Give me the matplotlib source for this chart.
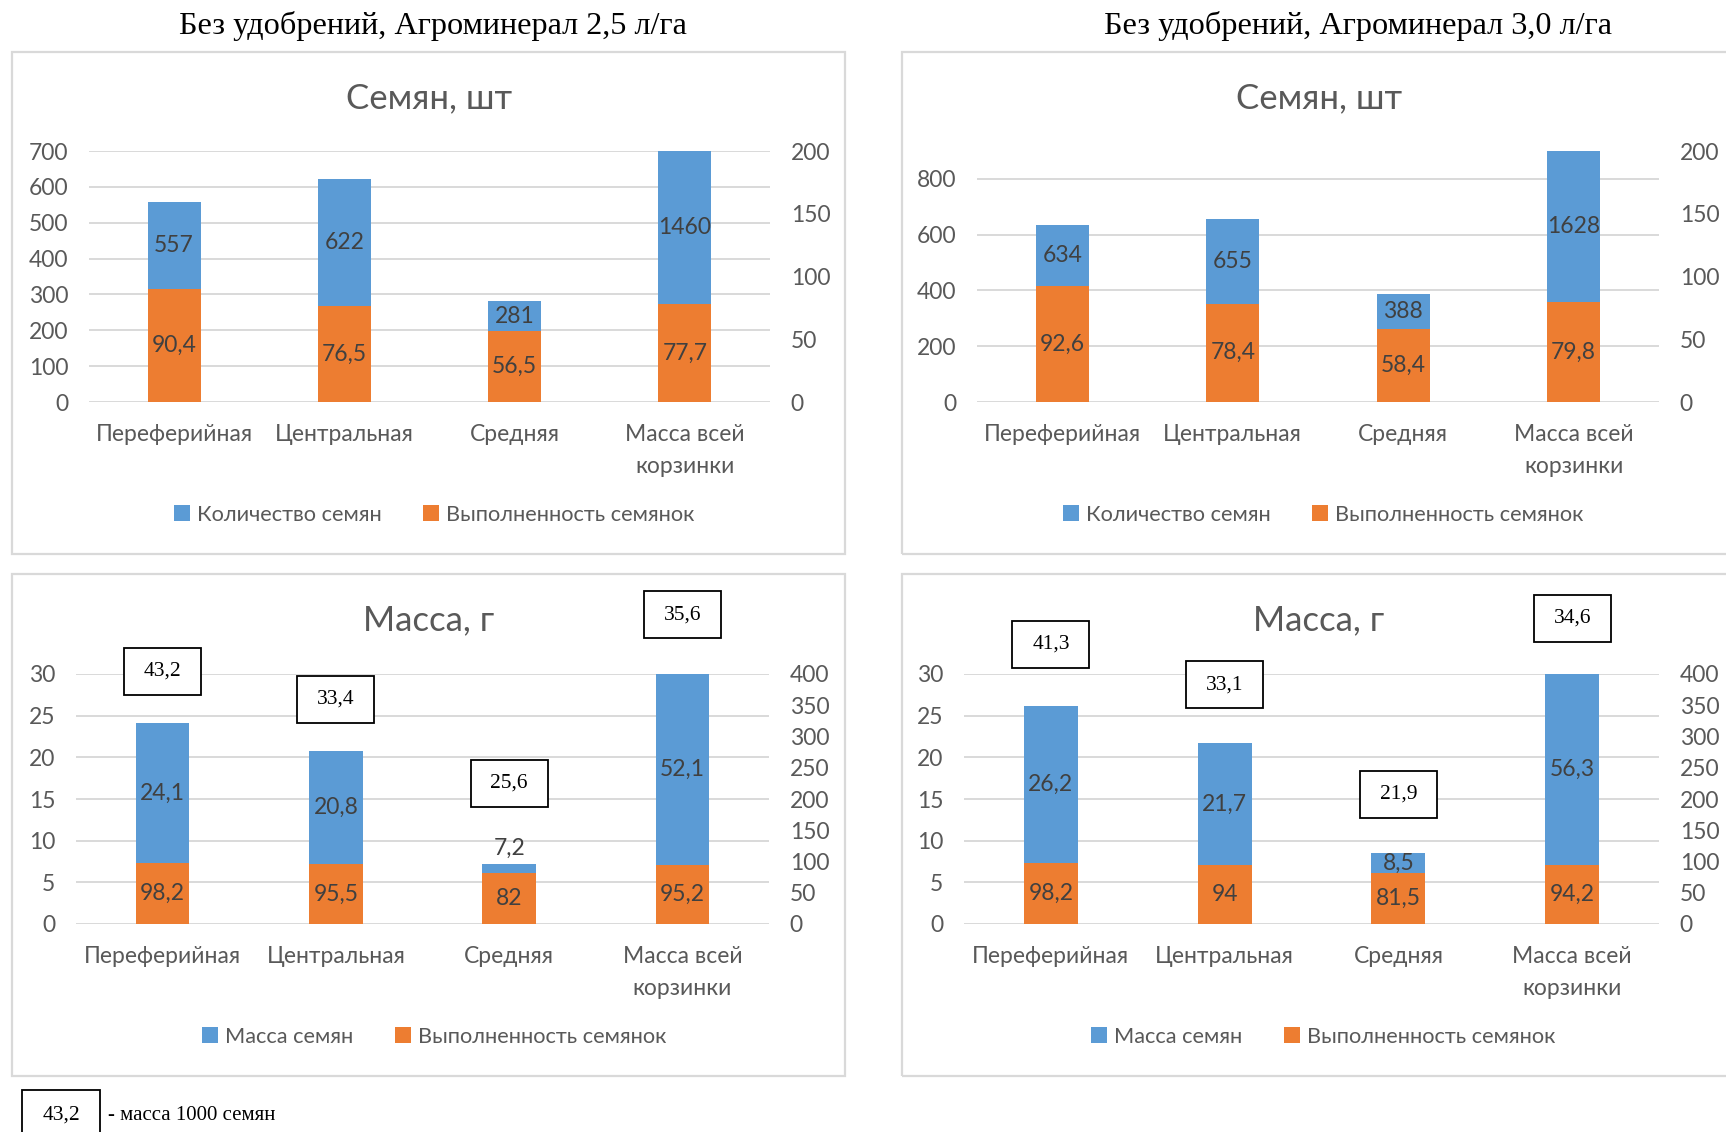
import matplotlib
matplotlib.use("Agg")
import matplotlib.pyplot as plt
from matplotlib.patches import Rectangle, Patch

plt.rcParams['font.family'] = ['Lato', 'DejaVu Sans']

# ---- data ----
categories = ["Переферийная", "Центральная", "Средняя", "Масса всей\nкорзинки"]

seed_count_25 = [557, 622, 281, 1460]
seed_fill_25 = [90.4, 76.5, 56.5, 77.7]
seed_count_30 = [634, 655, 388, 1628]
seed_fill_30 = [92.6, 78.4, 58.4, 79.8]

seed_mass_25 = [24.1, 20.8, 7.2, 52.1]
mass_fill_25 = [98.2, 95.5, 82, 95.2]
seed_mass_30 = [26.2, 21.7, 8.5, 56.3]
mass_fill_30 = [98.2, 94, 81.5, 94.2]

thousand_mass_25 = [43.2, 33.4, 25.6, 35.6]
thousand_mass_30 = [41.3, 33.1, 21.9, 34.6]

# vertical placement of the 1000-seed-mass boxes (primary-axis units)
box_y_25 = [30.3, 27.0, 16.9, 37.1]
box_y_30 = [33.6, 28.7, 15.6, 36.7]

BLUE = "#5B9BD5"
ORANGE = "#ED7D31"
GRID = "#D9D9D9"
TICK = "#595959"
LABEL = "#404040"

W, H = 1726, 1132
fig = plt.figure(figsize=(W / 100, H / 100), dpi=100)


def fmt(v):
    s = f"{v:g}"
    return s.replace(".", ",")


def add_axes_px(left, top, right, bottom):
    return fig.add_axes([left / W, 1 - bottom / H, (right - left) / W, (bottom - top) / H])


def panel_box(left, top, right, bottom):
    fig.add_artist(Rectangle((left / W, 1 - bottom / H), (right - left) / W, (bottom - top) / H,
                             transform=fig.transFigure, fill=False, edgecolor=GRID, lw=1.6))


def draw_chart(ax, blue, orange, ymax, yticks, ymax2, yticks2):
    x = list(range(len(categories)))
    ax.set_xlim(-0.5, len(categories) - 0.5)
    ax.set_ylim(0, ymax)
    ax.set_yticks(yticks)
    ax.yaxis.grid(True, color=GRID, lw=1.4)
    ax.set_axisbelow(True)
    ax.bar(x, blue, width=0.31, color=BLUE, zorder=2)
    ax.set_xticks(x)
    ax.set_xticklabels(categories, linespacing=1.65)
    for s in ax.spines.values():
        s.set_visible(False)
    ax.tick_params(axis='y', length=0, pad=15, labelsize=16.5, labelcolor=TICK)
    ax.tick_params(axis='x', length=0, pad=16, labelsize=16.5, labelcolor=TICK)

    ax2 = ax.twinx()
    ax2.set_ylim(0, ymax2)
    ax2.set_yticks(yticks2)
    ax2.bar(x, orange, width=0.31, color=ORANGE, zorder=2)
    for s in ax2.spines.values():
        s.set_visible(False)
    ax2.tick_params(axis='y', length=0, pad=15, labelsize=16.5, labelcolor=TICK)

    # value labels
    ax_h_px = ax.get_position().height * H
    unit_px = ax_h_px / ymax
    for i, (b, o) in enumerate(zip(blue, orange)):
        o_prim = o * ymax / ymax2
        top = min(b, ymax)
        visible = (top - o_prim) * unit_px
        if visible < 15:
            ax.annotate(fmt(b), (i, top), xytext=(0, 11), textcoords='offset points',
                        ha='center', va='center', fontsize=16.5, color=LABEL, zorder=5)
        else:
            ax.text(i, (top + o_prim) / 2, fmt(b), ha='center', va='center',
                    fontsize=16.5, color=LABEL, zorder=5)
        ax2.text(i, o / 2, fmt(o), ha='center', va='center', fontsize=16.5,
                 color=LABEL, zorder=5)
    return ax2


def legend(cx, cy, names):
    handles = [Patch(facecolor=BLUE, label=names[0]), Patch(facecolor=ORANGE, label=names[1])]
    fig.legend(handles=handles, loc='center', bbox_to_anchor=(cx / W, 1 - cy / H), ncol=2,
               frameon=False, handlelength=0.75, handleheight=0.75, handletextpad=0.3,
               columnspacing=1.9, fontsize=15.7, labelcolor=TICK)


def mass_boxes(ax, values, ys):
    for i, (v, y) in enumerate(zip(values, ys)):
        px, py = ax.transData.transform((i, y))
        bw, bh = 77, 47
        fig.add_artist(Rectangle(((px - bw / 2) / W, (py - bh / 2) / H), bw / W, bh / H,
                                 transform=fig.transFigure, facecolor='white',
                                 edgecolor='black', lw=1.3, zorder=10))
        fig.text(px / W, py / H, fmt(v), ha='center', va='center', fontsize=15.5,
                 family='Liberation Serif', color='black', zorder=11)


# ---- panel frames ----
panel_box(12, 52, 845, 554)
panel_box(902, 52, 1745, 554)
panel_box(12, 574, 845, 1076)
panel_box(902, 574, 1745, 1076)

# ---- headers ----
fig.text(433 / W, 1 - 26 / H, "Без удобрений, Агроминерал 2,5 л/га", ha='center', va='center',
         fontsize=23.2, family='Liberation Serif', color='black')
fig.text(1358 / W, 1 - 26 / H, "Без удобрений, Агроминерал 3,0 л/га", ha='center', va='center',
         fontsize=23.2, family='Liberation Serif', color='black')

# ---- chart titles ----
for cx, cy, t in [(429, 98, "Семян, шт"), (1319, 98, "Семян, шт"),
                  (429, 620, "Масса, г"), (1319, 620, "Масса, г")]:
    fig.text(cx / W, 1 - cy / H, t, ha='center', va='center', fontsize=25, color=TICK)

# ---- seed count charts ----
ax_tl = add_axes_px(89, 151, 770, 402)
draw_chart(ax_tl, seed_count_25, seed_fill_25, 700, range(0, 701, 100), 200, range(0, 201, 50))
ax_tr = add_axes_px(977, 151, 1659, 402)
draw_chart(ax_tr, seed_count_30, seed_fill_30, 900, range(0, 801, 200), 200, range(0, 201, 50))

# ---- mass charts ----
ax_bl = add_axes_px(76, 674, 769, 924)
draw_chart(ax_bl, seed_mass_25, mass_fill_25, 30, range(0, 31, 5), 400, range(0, 401, 50))
ax_br = add_axes_px(964, 674, 1659, 924)
draw_chart(ax_br, seed_mass_30, mass_fill_30, 30, range(0, 31, 5), 400, range(0, 401, 50))

mass_boxes(ax_bl, thousand_mass_25, box_y_25)
mass_boxes(ax_br, thousand_mass_30, box_y_30)

# ---- legends ----
legend(434, 515, ["Количество семян", "Выполненность семянок"])
legend(1323, 515, ["Количество семян", "Выполненность семянок"])
legend(434, 1037, ["Масса семян", "Выполненность семянок"])
legend(1323, 1037, ["Масса семян", "Выполненность семянок"])

# ---- key for the boxes ----
fig.add_artist(Rectangle((22 / W, 1 - 1140 / H), 78 / W, 50 / H, transform=fig.transFigure,
                         fill=False, edgecolor='black', lw=1.3))
fig.text(61 / W, 1 - 1115 / H, "43,2", ha='center', va='center', fontsize=15.5,
         family='Liberation Serif')
fig.text(108 / W, 1 - 1116 / H, "- масса 1000 семян", ha='left', va='center', fontsize=15,
         family='Liberation Serif')

fig.savefig("out.png", dpi=100, facecolor='white')
